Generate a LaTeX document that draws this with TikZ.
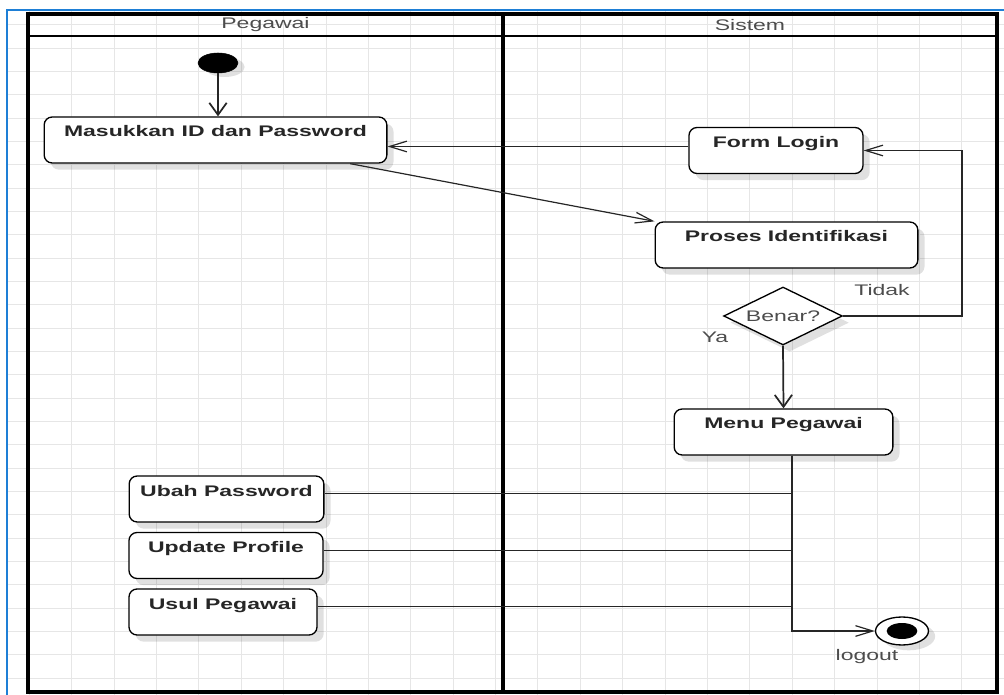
\documentclass[tikz,border=0pt]{standalone}
\usepackage{fontspec}
\usetikzlibrary{arrows.meta,shapes.geometric,shadows}
\newfontfamily\umlfont[FakeStretch=1.5]{Liberation Sans}
\definecolor{frameblue}{HTML}{1E7FD6}
\definecolor{gridgray}{HTML}{E6E6E6}

\begin{document}
\begin{tikzpicture}[x=0.75pt,y=-0.75pt,
  font=\umlfont\fontsize{11.5}{13}\selectfont,
  act/.style={draw,rounded corners=6pt,fill=white,line width=1pt,inner sep=0pt,
    text height=15pt,text depth=19.5pt,text=black!85,
    font=\umlfont\bfseries\fontsize{11.5}{13}\selectfont,
    drop shadow={shadow xshift=5pt,shadow yshift=-5pt,fill=black,opacity=0.12}},
  flow/.style={line width=0.9pt,black!85},
  harr/.style={flow,-{Straight Barb[length=13pt,width=8pt]}},
  varr/.style={flow,line width=1.3pt,-{Straight Barb[length=9pt,width=13pt]}},
  note/.style={text=black!70}]
\useasboundingbox (0,0) rectangle (1004,695);

% grid
\foreach \i in {0,...,23}
  \draw[gridgray,line width=0.6pt] (29.3+42.38*\i,10) -- (29.3+42.38*\i,695);
\foreach \j in {1,...,29}
  \draw[gridgray,line width=0.6pt] (7,1.5+23.33*\j) -- (1004,1.5+23.33*\j);
\draw[frameblue,line width=1.8pt] (7,695) -- (7,10) -- (1004,10);

% swimlanes
\draw[line width=2.8pt] (28,14) rectangle (997,692);
\draw[line width=2.8pt] (503,14) -- (503,692);
\draw[line width=1.6pt] (28,36) -- (997,36);
\node[note] (pegawai) at (265.5,25) {Pegawai};
\node[note] (sistem) at (750,25) {Sistem};

\node[draw,fill=black,ellipse,minimum width=30pt,minimum height=15pt,inner sep=0pt,
  drop shadow={shadow xshift=5pt,shadow yshift=-3pt,fill=black,opacity=0.12}] (start) at (218,63) {};
\node[act,minimum width=257pt] (masuk) at (215.5,140) {Masukkan ID dan Password};
\node[act,minimum width=130.5pt] (login) at (776,150.5) {Form Login};
\node[act,minimum width=197pt] (proses) at (786.5,245) {Proses Identifikasi};
\node[draw,diamond,fill=white,line width=1pt,inner sep=0pt,minimum width=89pt,minimum height=43.5pt,note,
  drop shadow={shadow xshift=5pt,shadow yshift=-5pt,fill=black,opacity=0.12}] (cek) at (783,316) {\makebox[0pt]{Benar?}};
\node[note] (tidak) at (882,290) {Tidak};
\node[note] (ya) at (715,337) {Ya};
\node[act,minimum width=164pt] (menu) at (783.5,432) {Menu Pegawai};
\node[act,minimum width=146pt] (ubah) at (226.5,499) {Ubah Password};
\node[act,minimum width=145.5pt] (update) at (226,555.5) {Update Profile};
\node[act,minimum width=141pt] (usul) at (223,612) {Usul Pegawai};
\node[draw,ellipse,fill=white,line width=1pt,minimum width=39.75pt,minimum height=21pt,inner sep=0pt,
  drop shadow={shadow xshift=5pt,shadow yshift=-4pt,fill=black,opacity=0.12}] (final) at (902,631) {};
\node[fill=black,ellipse,minimum width=23pt,minimum height=12pt,inner sep=0pt] (finaldot) at (final) {};
\node[note] (logout) at (867,657) {logout};
\coordinate (trunk) at ([xshift=6.4pt]menu.south);

\draw[varr] (start.south) -- (start.south |- masuk.north);
\draw[harr] ([yshift=3pt]login.west) -- ([yshift=3pt]login.west -| masuk.east);
\draw[harr] ([xshift=-28pt]masuk.south east) -- (proses.north west);
\draw[varr] (cek.south) -- (menu.north);
\draw[harr] (cek.east) -- ++(119,0) |- (login.east);
\draw[harr] (trunk) |- (final.west);
\draw[flow] ([yshift=4pt]ubah.east) -- ([yshift=4pt]ubah.east -| trunk);
\draw[flow] ([yshift=4pt]update.east) -- ([yshift=4pt]update.east -| trunk);
\draw[flow] ([yshift=4pt]usul.east) -- ([yshift=4pt]usul.east -| trunk);
\end{tikzpicture}
\end{document}
